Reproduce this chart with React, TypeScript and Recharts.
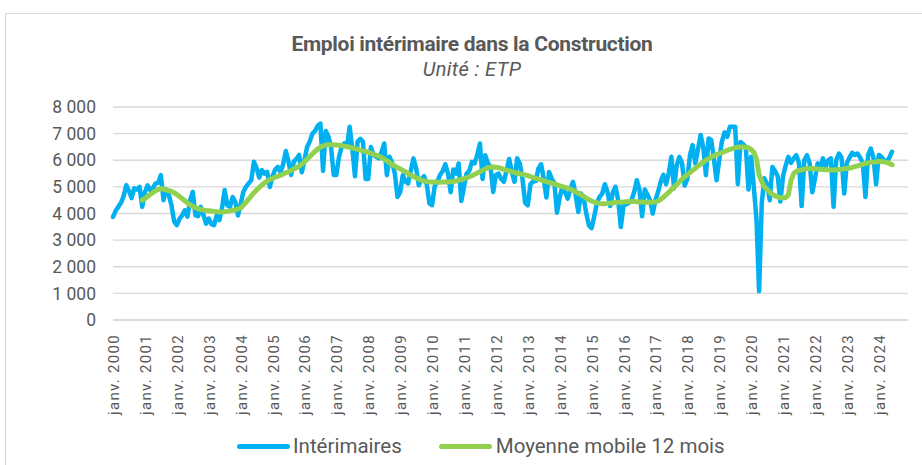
import { LineChart, Line, XAxis, YAxis, CartesianGrid } from 'recharts';

// Intérimaires, monthly (janv. 2000 -> juin 2024)
const int2000 = [3870, 4100, 4250, 4400, 4650, 5060, 4850, 4580, 4950, 4900, 5000, 4250];
const int2001 = [4800, 5060, 4880, 4950, 5130, 5150, 5440, 4500, 4900, 4700, 4300, 3700];
const int2002 = [3560, 3800, 3930, 4120, 3880, 4500, 4810, 3930, 3900, 4250, 3950, 3620];
const int2003 = [3810, 3600, 3560, 3930, 3750, 4200, 4880, 4310, 4250, 4620, 4440, 3930];
const int2004 = [4350, 4810, 5000, 5130, 5250, 5940, 5700, 5350, 5630, 5500, 5560, 5000];
const int2005 = [5400, 5650, 5750, 5550, 5850, 6350, 5950, 5450, 5950, 6050, 6200, 5550];
const int2006 = [6000, 6500, 6700, 7000, 7100, 7300, 7380, 5600, 7100, 6900, 6500, 5450];
const int2007 = [5450, 6130, 6500, 6630, 6500, 7260, 6440, 5400, 6700, 6800, 6700, 5300];
const int2008 = [5300, 6500, 6190, 6130, 6070, 6300, 6630, 5440, 6130, 5900, 5500, 4620];
const int2009 = [4800, 5440, 5200, 5130, 5600, 6070, 5700, 5060, 5300, 5400, 5100, 4380];
const int2010 = [4310, 5030, 5200, 5450, 5600, 5850, 5500, 4800, 5650, 5500, 5880, 4470];
const int2011 = [5000, 5500, 5600, 5940, 5880, 6200, 6630, 5300, 6190, 5900, 5750, 4810];
const int2012 = [5450, 5500, 5300, 5190, 5600, 6050, 5560, 5190, 6070, 5880, 5300, 4400];
const int2013 = [4310, 5100, 5200, 5220, 5690, 5850, 5300, 4600, 5560, 5300, 5150, 4030];
const int2014 = [4600, 5000, 4800, 4560, 4900, 5190, 4700, 4060, 4750, 4600, 4000, 3550];
const int2015 = [3450, 3900, 4400, 4620, 4750, 5100, 4800, 4280, 4800, 5000, 4500, 3490];
const int2016 = [4300, 4350, 4400, 4500, 4800, 5250, 4900, 3900, 4900, 4700, 4500, 4000];
const int2017 = [4500, 4810, 5200, 5450, 5100, 5500, 6130, 4950, 5800, 6130, 5900, 5050];
const int2018 = [5300, 6190, 6570, 5880, 6400, 6950, 6500, 5440, 6820, 6760, 6050, 5250];
const int2019 = [6000, 6700, 7050, 6880, 7260, 7260, 7260, 5100, 6690, 6600, 6500, 4900];
const int2020 = [6130, 5000, 3800, 1080, 4400, 5320, 5100, 4500, 5750, 5600, 5400, 4450];
const int2021 = [5400, 5800, 6130, 5900, 6070, 6190, 5900, 4280, 6000, 6190, 5900, 4800];
const int2022 = [5300, 5880, 5700, 6070, 5750, 6000, 6070, 4250, 6000, 6250, 6100, 4750];
const int2023 = [5900, 6100, 6280, 6200, 6250, 6100, 5900, 4620, 6200, 6440, 6100, 5100];
const int2024 = [6200, 6130, 6000, 5950, 6100, 6320];

// Moyenne mobile 12 mois, from déc. 2000
const MA_START = 11;
const ma2000 = [4500];
const ma2001 = [4560, 4640, 4720, 4790, 4850, 4900, 4930, 4920, 4890, 4860, 4830, 4780];
const ma2002 = [4720, 4640, 4560, 4480, 4400, 4330, 4270, 4220, 4180, 4150, 4130, 4110];
const ma2003 = [4100, 4090, 4080, 4070, 4060, 4060, 4070, 4080, 4100, 4120, 4140, 4170];
const ma2004 = [4200, 4310, 4420, 4540, 4660, 4780, 4880, 4980, 5070, 5150, 5220, 5280];
const ma2005 = [5320, 5360, 5400, 5440, 5480, 5530, 5570, 5620, 5670, 5720, 5780, 5850];
const ma2006 = [5940, 6040, 6140, 6240, 6330, 6420, 6490, 6540, 6570, 6580, 6580, 6580];
const ma2007 = [6570, 6560, 6550, 6530, 6510, 6490, 6460, 6440, 6410, 6380, 6350, 6330];
const ma2008 = [6300, 6260, 6220, 6190, 6150, 6100, 6040, 5980, 5910, 5840, 5780, 5720];
const ma2009 = [5680, 5620, 5560, 5500, 5440, 5390, 5340, 5290, 5250, 5220, 5200, 5180];
const ma2010 = [5180, 5180, 5170, 5170, 5180, 5180, 5180, 5190, 5200, 5220, 5250, 5280];
const ma2011 = [5310, 5340, 5380, 5420, 5470, 5520, 5570, 5620, 5670, 5710, 5740, 5750];
const ma2012 = [5740, 5720, 5690, 5660, 5630, 5600, 5570, 5540, 5510, 5490, 5470, 5450];
const ma2013 = [5420, 5390, 5350, 5320, 5290, 5260, 5230, 5200, 5170, 5140, 5110, 5080];
const ma2014 = [5040, 5010, 4980, 4950, 4910, 4870, 4820, 4760, 4700, 4640, 4580, 4520];
const ma2015 = [4470, 4430, 4400, 4380, 4370, 4370, 4380, 4390, 4400, 4410, 4420, 4420];
const ma2016 = [4430, 4440, 4450, 4450, 4450, 4440, 4430, 4430, 4420, 4420, 4420, 4420];
const ma2017 = [4430, 4470, 4530, 4610, 4700, 4790, 4890, 4990, 5090, 5190, 5290, 5380];
const ma2018 = [5460, 5540, 5620, 5700, 5780, 5860, 5930, 6000, 6060, 6120, 6170, 6210];
const ma2019 = [6250, 6290, 6330, 6370, 6410, 6440, 6470, 6490, 6500, 6500, 6490, 6470];
const ma2020 = [6400, 6300, 6050, 5450, 5200, 5000, 4900, 4800, 4720, 4660, 4620, 4600];
const ma2021 = [4580, 4600, 4700, 5250, 5500, 5580, 5620, 5640, 5660, 5680, 5690, 5690];
const ma2022 = [5680, 5670, 5660, 5650, 5640, 5640, 5630, 5630, 5640, 5650, 5660, 5680];
const ma2023 = [5690, 5710, 5730, 5760, 5790, 5820, 5850, 5880, 5900, 5920, 5930, 5940];
const ma2024 = [5950, 5950, 5940, 5920, 5880, 5830];

const YEARS = [
  2000, 2001, 2002, 2003, 2004, 2005, 2006, 2007, 2008, 2009, 2010, 2011, 2012,
  2013, 2014, 2015, 2016, 2017, 2018, 2019, 2020, 2021, 2022, 2023, 2024,
];
const Y_TICKS = [0, 1000, 2000, 3000, 4000, 5000, 6000, 7000, 8000];

const interimaires = [
  ...int2000, ...int2001, ...int2002, ...int2003, ...int2004, ...int2005, ...int2006,
  ...int2007, ...int2008, ...int2009, ...int2010, ...int2011, ...int2012, ...int2013,
  ...int2014, ...int2015, ...int2016, ...int2017, ...int2018, ...int2019, ...int2020,
  ...int2021, ...int2022, ...int2023, ...int2024,
];
const moyenne = [
  ...ma2000, ...ma2001, ...ma2002, ...ma2003, ...ma2004, ...ma2005, ...ma2006,
  ...ma2007, ...ma2008, ...ma2009, ...ma2010, ...ma2011, ...ma2012, ...ma2013,
  ...ma2014, ...ma2015, ...ma2016, ...ma2017, ...ma2018, ...ma2019, ...ma2020,
  ...ma2021, ...ma2022, ...ma2023, ...ma2024,
];

const data = interimaires.map((v, i) => ({
  m: i,
  interim: v,
  moyenne: i >= MA_START ? moyenne[i - MA_START] : null,
}));

const BLUE = '#00B0F0';
const GREEN = '#92D050';
const TEXT = '#595959';
const FONT = 'Roboto, "Noto Sans", sans-serif';

const fmtThousands = (v: number) => (v === 0 ? '0' : `${v / 1000} 000`);

function MonthTick({ x, y, payload }: any) {
  const year = YEARS[Math.round(payload.value / 12)];
  const tx = x + 6;
  const ty = y + 14;
  return (
    <text
      x={tx}
      y={ty}
      transform={`rotate(-90, ${tx}, ${ty})`}
      textAnchor="end"
      fill={TEXT}
      fontSize={15}
      letterSpacing={1.3}
      fontFamily={FONT}
    >
      {`janv. ${year}`}
    </text>
  );
}

export default function App() {
  return (
    <div
      style={{
        position: 'fixed',
        left: 0,
        top: 0,
        width: 922,
        height: 465,
        background: '#fff',
        overflow: 'hidden',
        fontFamily: FONT,
      }}
    >
      <div
        style={{
          position: 'absolute',
          left: 5,
          top: 13,
          width: 940,
          height: 480,
          border: '1.5px solid #d9d9d9',
        }}
      />
      <div
        style={{
          position: 'absolute',
          left: 0,
          width: 944,
          top: 32,
          textAlign: 'center',
          color: TEXT,
          fontSize: 21,
          fontWeight: 700,
          letterSpacing: -0.3,
        }}
      >
        Emploi intérimaire dans la Construction
      </div>
      <div
        style={{
          position: 'absolute',
          left: 0,
          width: 944,
          top: 57,
          textAlign: 'center',
          color: TEXT,
          fontSize: 20,
          fontStyle: 'italic',
          letterSpacing: 0.4,
        }}
      >
        Unité : ETP
      </div>

      <div style={{ position: 'absolute', left: 0, top: 0 }}>
        <LineChart
          width={922}
          height={465}
          data={data}
          margin={{ top: 107, right: 14, left: 0, bottom: 45 }}
        >
          <CartesianGrid vertical={false} stroke="#d9d9d9" strokeWidth={1.3} />
          <XAxis
            dataKey="m"
            type="number"
            domain={[0, 299]}
            ticks={YEARS.map((_, i) => i * 12)}
            interval={0}
            tick={<MonthTick />}
            tickLine={false}
            tickSize={0}
            tickMargin={0}
            axisLine={{ stroke: '#d9d9d9', strokeWidth: 1.3 }}
            height={100}
          />
          <YAxis
            domain={[0, 8000]}
            ticks={Y_TICKS}
            tickFormatter={fmtThousands}
            axisLine={false}
            tickLine={false}
            tickSize={0}
            tickMargin={17}
            width={113}
            tick={{ fill: TEXT, fontSize: 17.5, fontFamily: FONT }}
          />
          <Line
            type="linear"
            dataKey="interim"
            stroke={BLUE}
            strokeWidth={4.5}
            strokeLinejoin="round"
            strokeLinecap="round"
            dot={false}
            isAnimationActive={false}
          />
          <Line
            type="linear"
            dataKey="moyenne"
            stroke={GREEN}
            strokeWidth={5}
            strokeLinejoin="round"
            strokeLinecap="round"
            dot={false}
            connectNulls={false}
            isAnimationActive={false}
          />
        </LineChart>
      </div>

      <div
        style={{
          position: 'absolute',
          top: 433,
          left: 237,
          display: 'flex',
          alignItems: 'center',
          color: TEXT,
          fontSize: 20.5,
          lineHeight: '26px',
        }}
      >
        <span style={{ width: 53, height: 5, borderRadius: 3, background: BLUE, marginRight: 3 }} />
        <span>Intérimaires</span>
        <span
          style={{ width: 53, height: 5, borderRadius: 3, background: GREEN, marginLeft: 37, marginRight: 4 }}
        />
        <span>Moyenne mobile 12 mois</span>
      </div>
    </div>
  );
}
